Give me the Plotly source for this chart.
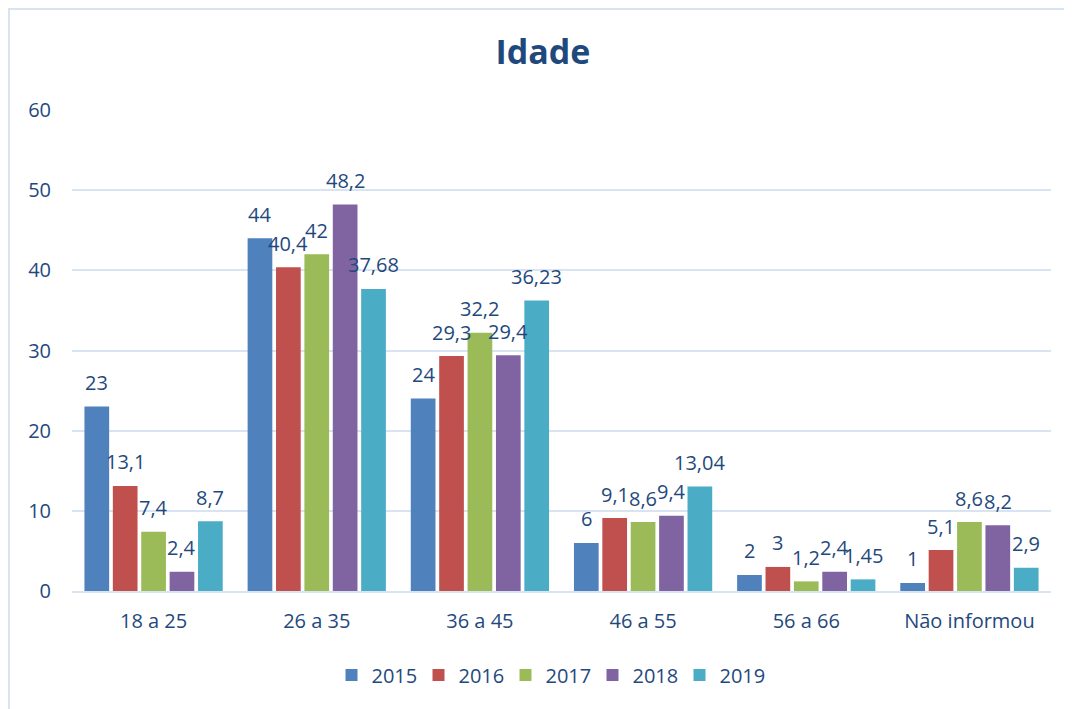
import plotly.graph_objects as go

categories = ["18 a 25", "26 a 35", "36 a 45", "46 a 55", "56 a 66", "Não informou"]
years = ["2015", "2016", "2017", "2018", "2019"]
v2015 = [23, 44, 24, 6, 2, 1]
v2016 = [13.1, 40.4, 29.3, 9.1, 3, 5.1]
v2017 = [7.4, 42, 32.2, 8.6, 1.2, 8.6]
v2018 = [2.4, 48.2, 29.4, 9.4, 2.4, 8.2]
v2019 = [8.7, 37.68, 36.23, 13.04, 1.45, 2.9]
series = [v2015, v2016, v2017, v2018, v2019]
y_ticks = [0, 10, 20, 30, 40, 50, 60]

colors = ["#4F81BD", "#C0504D", "#9BBB59", "#8064A2", "#4BACC6"]
text_color = "#1F497D"
grid_color = "#D9E4F3"
font_family = "Open Sans"

# page body has an 8px margin, so figure origin sits at (8, 8) in the screenshot
OFF = 8
W, H = 1072 - OFF, 709 - OFF
ml, mr, mt, mb = 72 - OFF, 21, 110 - OFF, 118
bargap = 0.13
bargroupgap = 0.13

def fmt(v):
    return ("%g" % v).replace(".", ",")

fig = go.Figure()
for name, vals, col in zip(years, series, colors):
    fig.add_trace(go.Bar(
        x=categories, y=vals, name=name,
        marker=dict(color=col, line=dict(width=0)),
    ))

# data labels as annotations, offset per series within a group
plot_w = W - ml - mr
cat_w = plot_w / len(categories)
slot = cat_w * (1 - bargap) / len(years)
annotations = []
for i, vals in enumerate(series):
    for c, v in zip(categories, vals):
        annotations.append(dict(
            x=c, y=v, xref="x", yref="y", text=fmt(v), showarrow=False,
            xshift=(i - (len(years) - 1) / 2) * slot, yshift=24,
            yanchor="middle", xanchor="center",
            font=dict(family=font_family, size=20, color=text_color),
        ))

plot_h = H - mt - mb
def px_x(p):
    return (p - OFF - ml) / plot_w
def px_y(p):
    return (H - mb - (p - OFF)) / plot_h

# chart-area border: only left and top edges are inside the picture
shapes = [
    dict(type="rect", xref="paper", yref="paper", x0=px_x(9), x1=px_x(1200), y0=px_y(9), y1=px_y(900),
         line=dict(color=grid_color, width=2), fillcolor="rgba(0,0,0,0)", layer="below"),
]

fig.update_layout(
    width=W, height=H,
    margin=dict(l=ml, r=mr, t=mt, b=mb),
    paper_bgcolor="white", plot_bgcolor="white",
    barmode="group", bargap=bargap, bargroupgap=bargroupgap,
    font=dict(family=font_family, color=text_color, size=20),
    title=dict(text="<b>Idade</b>", x=(543 - OFF) / W, xref="container", xanchor="center",
               y=1 - (52 - OFF) / H, yref="container", yanchor="middle",
               font=dict(family=font_family, size=34, color=text_color)),
    xaxis=dict(showgrid=False, showline=True, linecolor=grid_color, linewidth=2,
               tickfont=dict(size=20, color=text_color), ticks="", ticklabelstandoff=11,
               zeroline=False),
    yaxis=dict(range=[0, 60], tickvals=y_ticks, showgrid=True, gridcolor=grid_color, gridwidth=1.5,
               zeroline=False, showline=False, ticks="", ticklabelstandoff=20,
               tickfont=dict(size=20, color=text_color)),
    legend=dict(orientation="h", xref="container", yref="container",
                x=(549 - OFF) / W, xanchor="center", y=1 - (675 - OFF) / H, yanchor="middle",
                font=dict(size=20, color=text_color), traceorder="normal",
                entrywidth=42),
    annotations=annotations,
    shapes=shapes,
)

fig.write_html("out.html")
